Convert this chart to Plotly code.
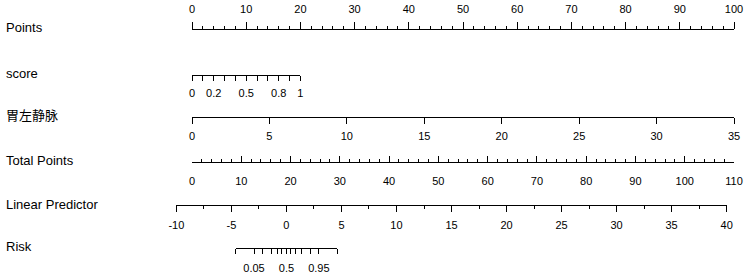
import numpy as np
import plotly.graph_objects as go

W, H = 746, 277

# ---------------- data ----------------
row_titles = ["Points", "score", "胃左静脉", "Total Points", "Linear Predictor", "Risk"]

points_range = [0, 100]
points_major = 10
points_minor = 2

score_ticks = [0, 0.1, 0.2, 0.3, 0.4, 0.5, 0.6, 0.7, 0.8, 0.9, 1.0]
score_labels = ["0", "", "0.2", "", "", "0.5", "", "", "0.8", "", "1"]
score_max_points = 20

vein_ticks = [0, 5, 10, 15, 20, 25, 30, 35]
vein_labels = ["0", "5", "10", "15", "20", "25", "30", "35"]
vein_max_points = 100

total_range = [0, 110]
total_major = 10
total_minor = 2

lp_range = [-10, 40]
lp_ticks = [-10, -5, 0, 5, 10, 15, 20, 25, 30, 35, 40]
lp_labels = ["-10", "-5", "0", "5", "10", "15", "20", "25", "30", "35", "40"]
lp_minor = 2.5
lp_at_zero_total = -8.58
lp_per_total_point = 0.4477

risk_ticks = [0.01, 0.05, 0.1, 0.2, 0.3, 0.4, 0.5, 0.6, 0.7, 0.8, 0.9, 0.95, 0.99]
risk_labels = ["", "0.05", "", "", "", "", "0.5", "", "", "", "", "0.95", ""]

# ---------------- layout geometry ----------------
X0, X1 = 192, 734          # pixel span of the 0..max scales
row_y = [29, 74.5, 117, 161.5, 205, 247.5]   # pixel y of each axis line


def fx(px):
    return px / W


def fy(py):
    return 1 - py / H


def lp_to_px(lp):
    tp = (lp - lp_at_zero_total) / lp_per_total_point
    return X0 + tp / total_range[1] * (X1 - X0)


def logit(p):
    return float(np.log(p / (1 - p)))


risk_lp = [logit(p) for p in risk_ticks]

BLACK = "black"
TF = dict(family="Liberation Sans, Arial, Helvetica, sans-serif", size=11, color=BLACK)

base = dict(anchor="free", showline=True, linecolor=BLACK, linewidth=1,
            tickcolor=BLACK, tickwidth=1, showgrid=False, zeroline=False,
            tickfont=TF, automargin=False, fixedrange=True)

axes = {}
axes["xaxis"] = dict(base, domain=[fx(X0), fx(X1)], range=points_range, side="top",
                     position=fy(row_y[0]), ticks="outside", ticklen=7,
                     tickmode="linear", tick0=0, dtick=points_major, ticklabelstandoff=5,
                     minor=dict(ticks="outside", ticklen=3.5, tick0=0, dtick=points_minor,
                                tickcolor=BLACK, tickwidth=1, showgrid=False))
axes["xaxis2"] = dict(base, domain=[fx(X0), fx(X0 + (X1 - X0) * score_max_points / 100)],
                      range=[score_ticks[0], score_ticks[-1]], side="bottom",
                      position=fy(row_y[1]), ticks="outside", ticklen=5,
                      tickmode="array", tickvals=score_ticks, ticktext=score_labels,
                      ticklabelstandoff=3)
axes["xaxis3"] = dict(base, domain=[fx(X0), fx(X0 + (X1 - X0) * vein_max_points / 100)],
                      range=[vein_ticks[0], vein_ticks[-1]], side="bottom",
                      position=fy(row_y[2]), ticks="outside", ticklen=6,
                      tickmode="array", tickvals=vein_ticks, ticktext=vein_labels,
                      ticklabelstandoff=3)
axes["xaxis4"] = dict(base, domain=[fx(X0), fx(X1)], range=total_range, side="bottom",
                      position=fy(row_y[3]), ticks="inside", ticklen=6,
                      tickmode="linear", tick0=0, dtick=total_major, ticklabelstandoff=9,
                      minor=dict(ticks="inside", ticklen=3, tick0=0, dtick=total_minor,
                                 tickcolor=BLACK, tickwidth=1, showgrid=False))
axes["xaxis5"] = dict(base, domain=[fx(lp_to_px(lp_range[0])), fx(lp_to_px(lp_range[1]))],
                      range=lp_range, side="bottom", position=fy(row_y[4]),
                      ticks="outside", ticklen=6, tickmode="array", tickvals=lp_ticks,
                      ticktext=lp_labels, ticklabelstandoff=4,
                      minor=dict(ticks="outside", ticklen=3, tick0=0, dtick=lp_minor,
                                 tickcolor=BLACK, tickwidth=1, showgrid=False))
axes["xaxis6"] = dict(base, domain=[fx(lp_to_px(risk_lp[0])), fx(lp_to_px(risk_lp[-1]))],
                      range=[risk_lp[0], risk_lp[-1]], side="bottom", position=fy(row_y[5]),
                      ticks="outside", ticklen=5, tickmode="array", tickvals=risk_lp,
                      ticktext=risk_labels, ticklabelstandoff=5)

fig = go.Figure()
ranges = [points_range, [0, 1], [0, 35], total_range, lp_range, [risk_lp[0], risk_lp[-1]]]
names = ["x", "x2", "x3", "x4", "x5", "x6"]
for nm, r in zip(names, ranges):
    fig.add_trace(go.Scatter(x=r, y=[0.5, 0.5], xaxis=nm, yaxis="y", mode="markers",
                             marker=dict(opacity=0), hoverinfo="skip", showlegend=False))

annotations = []
for title, yy in zip(row_titles, row_y):
    annotations.append(dict(text=title, x=fx(4), y=fy(yy - 1), xref="paper", yref="paper",
                            xanchor="left", yanchor="middle", showarrow=False,
                            font=dict(family="Liberation Sans, Arial, Noto Sans CJK SC, sans-serif",
                                      size=13, color=BLACK)))

fig.update_layout(
    width=W, height=H,
    margin=dict(l=0, r=0, t=0, b=0, pad=0),
    paper_bgcolor="white", plot_bgcolor="rgba(0,0,0,0)",
    yaxis=dict(domain=[0, 1], range=[0, 1], visible=False, fixedrange=True),
    annotations=annotations,
    hovermode=False,
    showlegend=False,
    **axes,
)

fig.write_html("out.html", config={"displayModeBar": False},
               post_script="document.body.style.margin='0';document.body.style.padding='0';")
